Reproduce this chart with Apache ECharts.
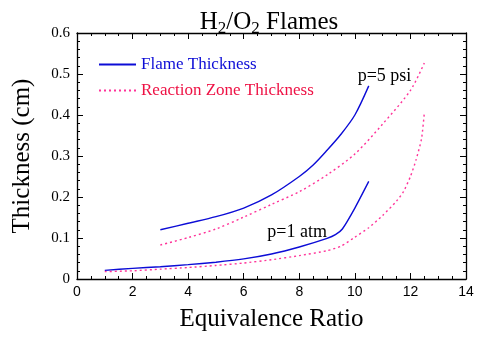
<!DOCTYPE html>
<html><head><meta charset="utf-8">
<script src="https://cdn.jsdelivr.net/npm/echarts@6/dist/echarts.min.js"></script>
<style>html,body{margin:0;padding:0;background:#fff}#c{width:479px;height:337px}</style>
</head><body><div id="c"></div>
<script>
// Flame thickness, p = 5 psi
const flame5X = [3, 4, 5, 6, 7, 8, 8.5, 9, 9.5, 10, 10.5];
const flame5Y = [0.12, 0.136, 0.152, 0.173, 0.205, 0.25, 0.278, 0.314, 0.353, 0.40, 0.471];
// Reaction zone thickness, p = 5 psi
const react5X = [3, 4, 5, 6, 7, 8, 9, 10, 11, 12, 12.5];
const react5Y = [0.083, 0.101, 0.122, 0.151, 0.182, 0.213, 0.254, 0.305, 0.378, 0.46, 0.527];
// Flame thickness, p = 1 atm
const flame1X = [1, 2, 3, 4, 5, 6, 7, 8, 9, 9.3, 9.55, 10, 10.5];
const flame1Y = [0.021, 0.026, 0.030, 0.035, 0.041, 0.049, 0.061, 0.078, 0.099, 0.108, 0.122, 0.173, 0.238];
// Reaction zone thickness, p = 1 atm
const react1X = [1, 2, 3, 4, 5, 6, 7, 8, 9, 9.5, 10, 10.5, 11, 11.5, 11.75, 12, 12.2, 12.4, 12.5];
const react1Y = [0.018, 0.020, 0.024, 0.028, 0.033, 0.039, 0.047, 0.057, 0.069, 0.080, 0.102, 0.125, 0.155, 0.19, 0.213, 0.25, 0.29, 0.342, 0.405];
const xTicks = [0, 2, 4, 6, 8, 10, 12, 14];
const yTicks = [0, 0.1, 0.2, 0.3, 0.4, 0.5, 0.6];
const annotations = [
  {text: 'p=5 psi', x: 10.1, y: 0.494},
  {text: 'p=1 atm', x: 6.85, y: 0.115}
];

const BLUE = '#0c0cd6', PINK = '#ff3399', RED = '#ee1144';
const SERIF = '"Liberation Serif", "Times New Roman", serif';
const SANS = '"Liberation Sans", Arial, sans-serif';
const pairs = (xs, ys) => xs.map((x, i) => [x, ys[i]]);

const axisCommon = {
  axisLine: {show: true, onZero: false, lineStyle: {color: '#000', width: 1.3}},
  axisTick: {show: true, inside: true, length: 6, lineStyle: {color: '#000'}},
  minorTick: {show: true, length: 3, lineStyle: {color: '#000'}},
  splitLine: {show: false}
};

const chart = echarts.init(document.getElementById('c'), null, {renderer: 'canvas'});
chart.setOption({
  animation: false,
  backgroundColor: '#fff',
  title: {
    text: 'H{s|2}/O{s|2} Flames',
    left: 264, top: 2, textAlign: 'center',
    textStyle: {
      fontFamily: SERIF, fontSize: 25, fontWeight: 'normal', color: '#000',
      rich: {s: {fontFamily: SERIF, fontSize: 17, padding: [13, 0, 0, 0], color: '#000'}}
    }
  },
  legend: {
    orient: 'vertical', left: 93, top: 51, itemWidth: 37, itemHeight: 14, itemGap: 9,
    textStyle: {fontFamily: SERIF, fontSize: 17},
    itemStyle: {opacity: 0},
    data: [
      {name: 'Flame Thickness', textStyle: {color: BLUE}},
      {name: 'Reaction Zone Thickness', textStyle: {color: RED}}
    ]
  },
  grid: {left: 77, right: 13, top: 33, bottom: 55, containLabel: false},
  xAxis: [
    Object.assign({}, axisCommon, {
      type: 'value', min: xTicks[0], max: xTicks[xTicks.length - 1], interval: 2,
      minorTick: Object.assign({}, axisCommon.minorTick, {splitNumber: 4}),
      name: 'Equivalence Ratio', nameLocation: 'middle', nameGap: 28,
      nameTextStyle: {fontFamily: SERIF, fontSize: 25, color: '#000'},
      axisLabel: {fontFamily: SANS, fontSize: 14, color: '#000', margin: 6}
    }),
    Object.assign({}, axisCommon, {
      type: 'value', position: 'top', min: xTicks[0], max: xTicks[xTicks.length - 1], interval: 2,
      minorTick: Object.assign({}, axisCommon.minorTick, {splitNumber: 4}),
      axisLabel: {show: false}
    })
  ],
  yAxis: [
    Object.assign({}, axisCommon, {
      type: 'value', min: yTicks[0], max: yTicks[yTicks.length - 1], interval: 0.1,
      minorTick: Object.assign({}, axisCommon.minorTick, {splitNumber: 5}),
      name: 'Thickness (cm)', nameLocation: 'middle', nameGap: 42, nameRotate: 90,
      nameTextStyle: {fontFamily: SERIF, fontSize: 25, color: '#000'},
      axisLabel: {fontFamily: SERIF, fontSize: 15, color: '#000', margin: 7,
        formatter: v => (Math.round(v * 10) / 10).toString()}
    }),
    Object.assign({}, axisCommon, {
      type: 'value', position: 'right', min: yTicks[0], max: yTicks[yTicks.length - 1], interval: 0.1,
      minorTick: Object.assign({}, axisCommon.minorTick, {splitNumber: 5}),
      axisLabel: {show: false}
    })
  ],
  series: [
    {name: 'Flame Thickness', type: 'line', data: pairs(flame5X, flame5Y), smooth: 0.3, symbol: 'none',
      lineStyle: {color: BLUE, width: 1.4}, itemStyle: {color: BLUE}},
    {name: 'Reaction Zone Thickness', type: 'line', data: pairs(react5X, react5Y), smooth: 0.3, symbol: 'none',
      lineStyle: {color: PINK, width: 1.4, type: [2, 3]}, itemStyle: {color: PINK}},
    {name: 'Flame Thickness', type: 'line', data: pairs(flame1X, flame1Y), smooth: 0.2, symbol: 'none',
      lineStyle: {color: BLUE, width: 1.4}, itemStyle: {color: BLUE}},
    {name: 'Reaction Zone Thickness', type: 'line', data: pairs(react1X, react1Y), smooth: 0.2, symbol: 'none',
      lineStyle: {color: PINK, width: 1.4, type: [2, 3]}, itemStyle: {color: PINK}}
  ]
});

chart.setOption({
  graphic: annotations.map(a => {
    const p = chart.convertToPixel({gridIndex: 0}, [a.x, a.y]);
    return {type: 'text', x: p[0], y: p[1],
      style: {text: a.text, fontFamily: SERIF, fontSize: 18, fill: '#000', textVerticalAlign: 'middle'}};
  })
});
</script></body></html>
